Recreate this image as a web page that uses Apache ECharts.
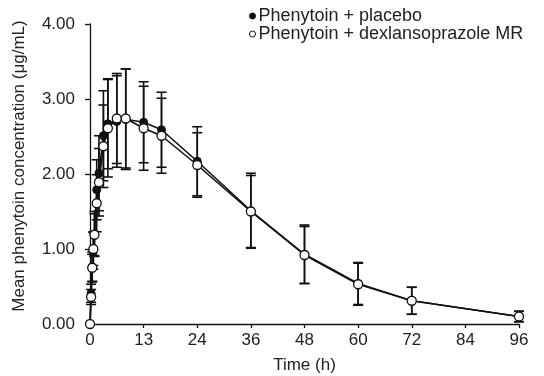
<!DOCTYPE html>
<html>
<head>
<meta charset="utf-8">
<script src="https://cdn.jsdelivr.net/npm/echarts@6/dist/echarts.min.js"></script>
<style>html,body{margin:0;padding:0;background:#fff}#c{width:544px;height:376px}</style>
</head>
<body>
<div id="c"></div>
<script>
var times = [0, 0.25, 0.5, 0.75, 1, 1.5, 2, 3, 4, 6, 8, 12, 16, 24, 36, 48, 60, 72, 96];
var placeboMean = [0, 0.41, 0.76, 0.98, 1.20, 1.79, 2.01, 2.51, 2.67, 2.70, 2.73, 2.69, 2.59, 2.17, 1.51, 0.93, 0.54, 0.31, 0.10];
var placeboSD = [0, 0.12, 0.20, 0.25, 0.30, 0.40, 0.50, 0.60, 0.60, 0.61, 0.67, 0.54, 0.50, 0.46, 0.50, 0.39, 0.28, 0.18, 0.07];
var dexMean = [0, 0.36, 0.75, 1.00, 1.19, 1.61, 1.89, 2.37, 2.61, 2.74, 2.74, 2.61, 2.51, 2.12, 1.50, 0.92, 0.53, 0.31, 0.10];
var dexSD = [0, 0.10, 0.18, 0.22, 0.28, 0.38, 0.45, 0.55, 0.65, 0.60, 0.66, 0.56, 0.50, 0.43, 0.48, 0.38, 0.28, 0.18, 0.07];
var xTickValues = [0, 12, 24, 36, 48, 60, 72, 84, 96];
var xTickLabels = ['0', '13', '24', '36', '48', '60', '72', '84', '96'];
var yTickLabels = ['0.00', '1.00', '2.00', '3.00', '4.00'];
var seriesNames = ['Phenytoin + placebo', 'Phenytoin + dexlansoprazole MR'];

function pts(m) { return times.map(function (t, i) { return [t, m[i]]; }); }
function errs(m, s) { return times.map(function (t, i) { return [t, m[i], s[i]]; }); }

var FONT = 'Liberation Sans, Arial, Helvetica, sans-serif';
var TXT = '#222';
var FS = 17;

function errRender(params, api) {
  var x = api.value(0), m = api.value(1), sd = api.value(2);
  if (!sd) return null;
  var top = api.coord([x, m + sd]);
  var bot = api.coord([x, m - sd]);
  var h = 5;
  var st = { stroke: '#111', lineWidth: 1.6 };
  return {
    type: 'group',
    children: [
      { type: 'line', shape: { x1: top[0], y1: top[1], x2: bot[0], y2: bot[1] }, style: st },
      { type: 'line', shape: { x1: top[0] - h, y1: top[1], x2: top[0] + h, y2: top[1] }, style: st },
      { type: 'line', shape: { x1: bot[0] - h, y1: bot[1], x2: bot[0] + h, y2: bot[1] }, style: st }
    ]
  };
}

var chart = echarts.init(document.getElementById('c'), null, { renderer: 'canvas' });
chart.setOption({
  animation: false,
  backgroundColor: '#fff',
  textStyle: { fontFamily: FONT },
  grid: { left: 90, right: 25, top: 24, bottom: 52, containLabel: false, outerBoundsMode: 'none' },
  legend: {
    orient: 'vertical', left: 249, top: 7, itemGap: 0, padding: 0,
    itemWidth: 6, itemHeight: 6, icon: 'circle',
    textStyle: { fontFamily: FONT, fontSize: 18, color: TXT, lineHeight: 16, padding: [0, 0, 0, -2] },
    data: [
      { name: seriesNames[0], itemStyle: { color: '#111', borderColor: '#111', borderWidth: 1 } },
      { name: seriesNames[1], itemStyle: { color: '#fff', borderColor: '#111', borderWidth: 1 } }
    ]
  },
  xAxis: {
    type: 'value', min: 0, max: 96, interval: 12,
    name: 'Time (h)', nameLocation: 'middle', nameGap: 33,
    nameTextStyle: { fontFamily: FONT, fontSize: FS, color: TXT },
    axisLine: { lineStyle: { color: '#111', width: 1.3 } },
    axisTick: { length: 4, lineStyle: { color: '#111', width: 1.3 } },
    splitLine: { show: false },
    axisLabel: {
      fontFamily: FONT, fontSize: FS, color: TXT, margin: 8,
      formatter: function (v) { var i = xTickValues.indexOf(v); return i >= 0 ? xTickLabels[i] : ''; }
    }
  },
  yAxis: {
    type: 'value', min: 0, max: 4, interval: 1,
    name: 'Mean phenytoin concentration (\u03bcg/mL)', nameLocation: 'middle', nameGap: 62,
    nameTextStyle: { fontFamily: FONT, fontSize: FS, color: TXT, padding: [0, 0, 0, 16] },
    axisLine: { show: true, lineStyle: { color: '#111', width: 1.3 } },
    axisTick: { show: true, length: 5, lineStyle: { color: '#111', width: 1.3 } },
    splitLine: { show: false },
    axisLabel: {
      fontFamily: FONT, fontSize: FS, color: TXT, margin: 15,
      formatter: function (v) { return yTickLabels[Math.round(v)]; }
    }
  },
  series: [
    { type: 'custom', name: 'errP', renderItem: errRender, data: errs(placeboMean, placeboSD), z: 2, silent: true },
    { type: 'custom', name: 'errD', renderItem: errRender, data: errs(dexMean, dexSD), z: 2, silent: true },
    {
      type: 'line', name: seriesNames[0], data: pts(placeboMean), z: 3,
      symbol: 'circle', symbolSize: 8, showAllSymbol: true,
      lineStyle: { color: '#111', width: 1.6 },
      itemStyle: { color: '#111', borderColor: '#111', borderWidth: 1 }
    },
    {
      type: 'line', name: seriesNames[1], data: pts(dexMean), z: 4,
      symbol: 'circle', symbolSize: 9, showAllSymbol: true,
      lineStyle: { color: '#111', width: 1.6 },
      itemStyle: { color: '#fff', borderColor: '#111', borderWidth: 1.3 }
    }
  ]
});
</script>
</body>
</html>
